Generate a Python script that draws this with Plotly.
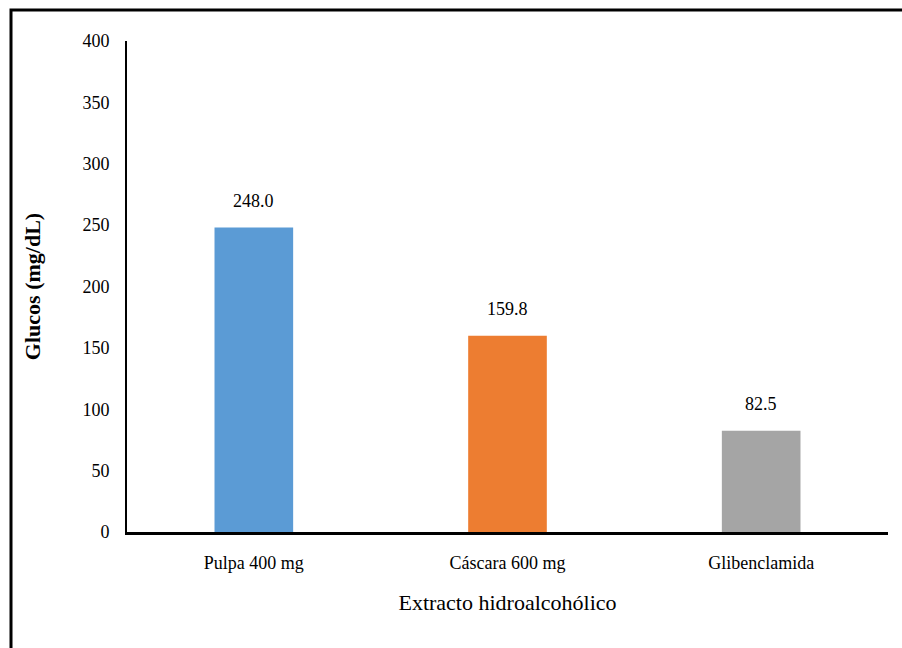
import plotly.graph_objects as go

categories = ["Pulpa 400 mg", "Cáscara 600 mg", "Glibenclamida"]
values = [248.0, 159.8, 82.5]
value_labels = ["248.0", "159.8", "82.5"]
colors = ["#5B9BD5", "#ED7D31", "#A5A5A5"]
y_ticks = [0, 50, 100, 150, 200, 250, 300, 350, 400]

FONT = "Liberation Serif"

fig = go.Figure()
fig.add_trace(go.Bar(
    x=categories, y=values, marker=dict(color=colors, line=dict(width=0)),
    width=0.31, showlegend=False,
))

for c, v, t in zip(categories, values, value_labels):
    fig.add_annotation(x=c, y=v, text=t, showarrow=False, yanchor="bottom",
                       yshift=15, font=dict(family=FONT, size=18, color="#000000"))

L, R, T, B = 127, 14, 41, 116
W, H = 902, 648
pw, ph = W - L - R, H - T - B
fx = (11 - L) / pw
fy = 1 + (T - 10) / ph
fig.add_shape(type="path", xref="paper", yref="paper",
              path=f"M {fx} -0.5 L {fx} {fy} L 1.2 {fy}",
              line=dict(color="#000000", width=3))

fig.update_layout(
    width=W, height=H,
    margin=dict(l=L, r=R, t=T, b=B),
    paper_bgcolor="white", plot_bgcolor="white",
    font=dict(family=FONT, color="#000000"),
    bargap=0.69,
    xaxis=dict(
        showline=True, linecolor="#000000", linewidth=3,
        ticks="", ticklabelstandoff=12,
        tickfont=dict(family=FONT, size=18, color="#000000"),
        title=dict(text="Extracto hidroalcohólico", font=dict(family=FONT, size=22, color="#000000"), standoff=24),
        showgrid=False,
    ),
    yaxis=dict(
        range=[0, 400], tickvals=y_ticks, ticktext=[str(v) for v in y_ticks],
        showline=True, linecolor="#000000", linewidth=2,
        ticks="", ticklabelstandoff=12,
        tickfont=dict(family=FONT, size=18, color="#000000"),
        showgrid=False, zeroline=False,
        title=dict(text="<b>Glucos (mg/dL)</b>", font=dict(family=FONT, size=22, color="#000000"), standoff=36),
    ),
)

fig.write_html("out.html")
